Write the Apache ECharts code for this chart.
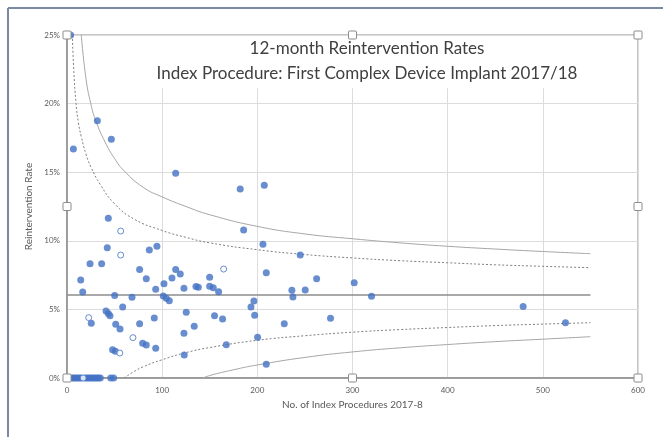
<!DOCTYPE html>
<html>
<head>
<meta charset="utf-8">
<script src="https://cdn.jsdelivr.net/npm/echarts@6/dist/echarts.min.js"></script>
<style>
html,body{margin:0;padding:0;background:#fff}
#main{width:663px;height:437px}
</style>
</head>
<body>
<div id="main"></div>
<script>
// units performing index procedures: [number of procedures, reintervention rate %]
const filledPoints = [
[3.8,25],[6.7,16.7],[31.9,18.75],[46.6,17.4],[114.2,14.92],[182,13.78],[207.3,14.04],[185.6,10.79],[205.9,9.74],[245.1,8.96],
[43.4,11.64],[42.3,9.5],[86.5,9.33],[94.5,9.6],[24.2,8.33],[36.4,8.33],[76.3,7.9],[14.4,7.14],[16.5,6.27],[83.3,7.24],
[114.2,7.9],[119,7.58],[110.3,7.29],[101.9,6.87],[93.2,6.46],[122.9,6.54],[135.5,6.66],[138,6.62],[149.9,7.34],[149.9,6.68],
[153.7,6.58],[159.3,6.29],[50.1,6.02],[68.3,5.88],[101.2,5.98],[104.3,5.81],[107.5,5.63],[58.5,5.17],[41,4.88],[43.4,4.71],
[45.2,4.54],[25.5,3.99],[51.2,3.91],[55.7,3.57],[76.3,3.96],[91.7,4.37],[125.3,4.79],[133.7,3.77],[122.9,3.26],[155,4.54],
[163.5,4.3],[79.5,2.53],[83.3,2.41],[93.2,2.16],[47.9,2.06],[50.8,1.95],[123.2,1.68],[167.4,2.43],
[209.4,7.68],[262.3,7.24],[301.8,6.95],[236.3,6.39],[250.3,6.41],[237.4,5.9],[320,5.95],[196.4,5.61],[193.3,5.17],[197.2,4.57],
[228.3,3.96],[276.9,4.35],[200.3,2.97],[209.4,1.0],[479.3,5.22],[523.8,4.03],
[5,0],[7,0],[9,0],[11,0],[13,0],[15,0],[19,0],[21,0],[23,0],[25,0],[27,0],[29,0],[31,0],[33,0],[35,0],[46,0],[49,0]
]
const openPoints = [[56.4,10.71],[56.4,8.96],[164.6,7.94],[22.8,4.4],[69.3,2.94],[55.5,1.82],[17,0]]

// average rate and control limits (99.8% solid, 95% dotted)
const meanLine = [[0,6.05],[550,6.05]]
const upper998 = [[15,25],[20,21.8],[25,20.0],[30,18.8],[40,17.2],[50,16.0],[60,15.1],[80,13.9],[100,13.2],[125,12.5],[150,11.9],
  [200,11.05],[250,10.5],[300,10.15],[350,9.85],[400,9.6],[450,9.4],[500,9.22],[550,9.06]]
const upper95 = [[5.6,25],[7,22.6],[9.5,20.0],[12,18.6],[15,17.6],[20,16.3],[25,15.4],[35,14.1],[50,12.7],[70,11.6],[100,10.75],
  [125,10.25],[150,9.85],[200,9.35],[250,9.0],[300,8.75],[350,8.55],[400,8.4],[450,8.25],[500,8.14],[550,8.04]]
const lower95 = [[60,0],[70,0.45],[80,0.82],[100,1.33],[125,1.85],[150,2.22],[200,2.75],[250,3.08],[300,3.34],[350,3.53],
  [400,3.68],[450,3.82],[500,3.93],[550,4.03]]
const lower998 = [[143,0],[150,0.18],[175,0.6],[200,0.95],[250,1.5],[300,1.9],[350,2.2],[400,2.44],[450,2.65],[500,2.83],[550,3.01]]

const blue = '#4472c4'
const chart = echarts.init(document.getElementById('main'))

function limitLine(data, type, color) {
  return {
    type: 'line', data: data, smooth: true, symbol: 'none', silent: true,
    lineStyle: {color: color, width: 1, type: type}, z: 2
  }
}

chart.setOption({
  animation: false,
  backgroundColor: '#fff',
  title: {
    text: '12-month Reintervention Rates\nIndex Procedure: First Complex Device Implant 2017/18',
    left: 361, top: 36, textAlign: 'center',
    backgroundColor: '#fff', padding: [0, 6, 2, 6],
    textStyle: {fontFamily: 'Lato', fontSize: 17, fontWeight: 'normal', color: '#404040', lineHeight: 25}
  },
  grid: {left: 67, right: 25, top: 35, bottom: 59, show: true, borderColor: '#8c8c8c', borderWidth: 1},
  xAxis: {
    type: 'value', min: 0, max: 600, interval: 100,
    name: 'No. of Index Procedures 2017-8', nameLocation: 'middle', nameGap: 22,
    nameTextStyle: {fontFamily: 'Lato', fontSize: 10, color: '#595959'},
    axisLine: {show: true, lineStyle: {color: '#8c8c8c', width: 1.5}},
    axisTick: {show: false},
    axisLabel: {fontFamily: 'Lato', fontSize: 8, color: '#595959', margin: 8},
    splitLine: {lineStyle: {color: '#dcdcdc'}}
  },
  yAxis: {
    type: 'value', min: 0, max: 25, interval: 5,
    name: 'Reintervention Rate', nameLocation: 'middle', nameGap: 28,
    nameTextStyle: {fontFamily: 'Lato', fontSize: 10, color: '#595959'},
    axisLine: {show: true, lineStyle: {color: '#8c8c8c', width: 1.5}},
    axisTick: {show: false},
    axisLabel: {fontFamily: 'Lato', fontSize: 8, color: '#595959', formatter: '{value}%', margin: 7},
    splitLine: {lineStyle: {color: '#dcdcdc'}}
  },
  series: [
    {type: 'line', data: meanLine, symbol: 'none', silent: true, lineStyle: {color: '#8c8c8c', width: 1.5}, z: 2},
    limitLine(upper998, 'solid', '#a6a6a6'),
    limitLine(lower998, 'solid', '#a6a6a6'),
    limitLine(upper95, [2, 2], '#7f7f7f'),
    limitLine(lower95, [2, 2], '#7f7f7f'),
    {type: 'scatter', data: filledPoints, symbolSize: 7, itemStyle: {color: blue}, z: 3},
    {type: 'scatter', data: openPoints, symbolSize: 6, itemStyle: {color: '#fff', borderColor: blue, borderWidth: 1}, z: 3}
  ]
})

// window frame and selection handles round the plot area
const graphics = [
  {type: 'line', shape: {x1: 8, y1: 8, x2: 663, y2: 8}, style: {stroke: '#7c87a6', lineWidth: 2}},
  {type: 'line', shape: {x1: 8, y1: 8, x2: 8, y2: 437}, style: {stroke: '#7c87a6', lineWidth: 2}}
]
const handleAt = [[0, 25], [300, 25], [600, 25], [0, 12.5], [600, 12.5], [0, 0], [300, 0], [600, 0]]
handleAt.forEach(function (h) {
  const p = chart.convertToPixel({gridIndex: 0}, h)
  graphics.push({type: 'rect', z: 100, shape: {x: p[0] - 4, y: p[1] - 4, width: 8, height: 8, r: 1},
    style: {fill: '#fff', stroke: '#8c8c8c', lineWidth: 1}})
})
chart.setOption({graphic: graphics})
</script>
</body>
</html>
